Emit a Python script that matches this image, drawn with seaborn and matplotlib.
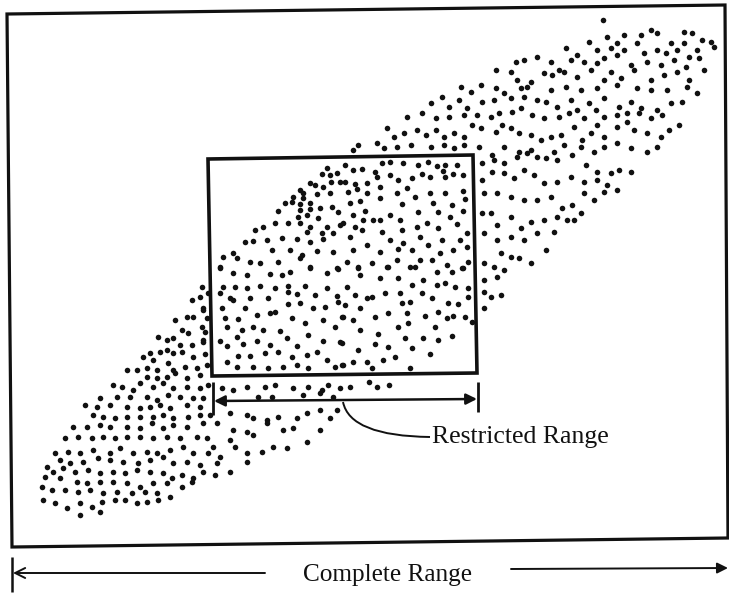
import matplotlib
matplotlib.use("Agg")
import matplotlib.pyplot as plt
from matplotlib.patches import Polygon, FancyArrowPatch
from matplotlib.path import Path
from matplotlib.patches import PathPatch
import pandas as pd
import seaborn as sns

# Scatter cloud, in drawing units (x to the right, y downward)
upper_cloud = [
    (603, 20), (624, 35), (651, 30), (657, 33), (641, 35), (684, 32), (692, 33), (711, 42), (702, 40),
    (607, 37), (617, 43), (637, 43), (589, 42), (671, 43), (684, 43), (697, 50), (714, 47),
    (566, 48), (577, 55), (597, 50), (611, 48), (624, 50), (644, 53), (657, 50), (666, 53), (677, 50),
    (689, 57), (699, 58), (537, 57), (524, 60), (516, 62), (551, 62), (559, 70), (571, 60), (584, 62),
    (597, 63), (604, 58), (617, 55), (631, 65), (647, 62), (661, 65), (674, 60), (686, 67), (704, 70),
    (496, 70), (511, 72), (517, 80), (531, 82), (544, 73), (552, 75), (564, 72), (577, 77), (591, 70),
    (604, 80), (611, 72), (621, 78), (634, 70), (651, 80), (664, 75), (677, 72), (689, 80),
    (461, 87), (471, 92), (481, 85), (496, 88), (504, 93), (521, 88), (527, 87), (551, 90), (566, 87),
    (581, 90), (597, 88), (617, 85), (637, 88), (651, 90), (667, 90), (687, 87), (697, 93),
    (442, 97), (431, 103), (449, 107), (459, 100), (467, 108), (482, 102), (494, 100), (511, 98),
    (524, 97), (537, 100), (546, 102), (557, 107), (571, 100), (577, 110), (589, 103), (604, 98),
    (619, 107), (631, 102), (641, 108), (657, 110), (671, 103), (682, 102),
    (407, 117), (422, 113), (436, 118), (449, 117), (464, 115), (477, 115), (491, 117), (499, 113),
    (512, 112), (521, 108), (532, 115), (544, 118), (559, 117), (569, 113), (584, 118), (596, 110),
    (604, 117), (617, 115), (627, 113), (639, 113), (651, 118), (662, 115), (679, 125),
    (387, 128), (394, 137), (404, 133), (417, 130), (426, 135), (436, 130), (444, 137), (454, 133),
    (464, 137), (472, 125), (481, 128), (496, 132), (502, 125), (511, 128), (519, 133), (531, 135),
    (541, 140), (551, 137), (561, 135), (574, 127), (582, 140), (591, 133), (597, 125), (604, 137),
    (617, 127), (627, 122), (634, 130), (647, 133), (661, 137), (669, 130),
    (377, 143), (384, 148), (397, 147), (411, 145), (431, 147), (444, 145), (454, 148), (464, 145),
    (479, 147), (492, 155), (504, 147), (519, 152), (531, 150), (537, 157), (554, 152), (564, 145),
    (572, 155), (581, 147), (594, 152), (604, 147), (617, 143), (631, 148), (647, 152), (657, 147),
    (353, 150), (358, 145),
    (482, 163), (494, 160), (504, 163), (517, 157), (527, 153), (546, 158), (557, 160), (586, 165),
    (597, 172), (611, 173), (619, 170), (631, 172), (482, 180), (492, 172), (504, 173), (514, 178),
    (524, 170), (534, 175), (544, 183), (557, 182), (571, 177), (584, 182), (597, 180), (607, 185),
    (617, 190), (484, 193), (497, 193), (511, 197), (524, 200), (537, 200), (551, 197), (562, 208),
    (572, 205), (584, 193), (594, 200), (604, 192), (482, 213), (491, 213), (497, 225), (511, 217),
    (521, 228), (531, 222), (544, 220), (557, 217), (567, 220), (574, 220), (581, 213),
    (484, 233), (497, 240), (511, 237), (524, 240), (537, 233), (546, 250), (554, 232),
    (501, 253), (511, 257), (519, 258), (531, 263), (484, 263), (494, 267), (504, 270),
    (484, 280), (497, 277), (484, 292), (491, 297), (501, 295), (484, 308),
]

window_cloud = [
    (327, 168), (322, 174), (330, 175), (337, 173), (310, 183), (315, 185), (323, 187), (331, 182),
    (340, 182), (300, 190), (303, 193), (317, 194), (330, 193), (293, 197), (303, 198),
    (285, 203), (292, 202), (300, 204), (310, 203), (278, 211), (300, 210), (310, 209), (320, 208),
    (332, 207), (338, 212), (298, 217), (307, 215), (318, 218), (275, 223), (288, 223), (300, 223),
    (310, 227), (327, 227), (340, 225), (263, 227), (255, 230), (307, 232), (322, 233), (333, 233),
    (267, 240), (282, 238), (297, 239), (310, 242), (323, 239), (245, 242), (253, 241), (272, 250),
    (290, 250), (302, 255), (317, 251), (333, 252), (233, 253), (223, 257), (237, 258), (250, 262),
    (260, 263), (278, 262), (300, 258), (220, 267), (310, 267), (337, 268),
    (345, 165), (353, 170), (362, 169), (375, 172), (382, 163), (390, 162), (403, 163), (418, 165),
    (428, 162), (437, 166), (445, 165), (457, 165), (443, 171), (345, 182), (355, 184), (367, 183),
    (377, 177), (390, 175), (398, 180), (412, 178), (422, 174), (430, 177), (445, 177), (453, 174),
    (463, 175), (348, 192), (357, 189), (367, 193), (380, 187), (397, 193), (407, 188), (430, 193),
    (445, 193), (463, 191), (350, 203), (360, 201), (380, 198), (402, 204), (415, 197), (433, 203),
    (452, 205), (465, 199), (353, 215), (365, 211), (373, 220), (390, 215), (400, 220), (418, 212),
    (438, 212), (450, 217), (463, 211), (343, 223), (355, 227), (363, 220), (380, 220), (402, 230),
    (417, 227), (427, 223), (438, 228), (457, 224), (467, 233), (350, 237), (362, 230), (382, 232),
    (390, 240), (403, 243), (420, 237), (442, 240), (460, 240), (353, 250), (367, 245), (380, 252),
    (398, 249), (412, 250), (428, 245), (440, 253), (453, 250), (467, 247), (347, 262), (358, 267),
    (372, 263), (387, 267), (397, 260), (410, 267), (420, 260), (432, 260), (447, 265), (462, 268),
    (468, 262),
    (220, 268), (233, 273), (247, 275), (270, 274), (282, 275), (290, 272), (310, 268), (327, 273),
    (338, 269), (223, 287), (235, 287), (247, 288), (260, 286), (275, 288), (288, 286), (288, 292),
    (297, 294), (305, 286), (315, 295), (327, 288), (337, 296), (220, 293), (230, 298), (233, 300),
    (250, 298), (268, 298), (288, 304), (300, 303), (313, 308), (325, 307), (338, 302), (222, 308),
    (225, 318), (238, 319), (245, 308), (257, 315), (270, 313), (275, 312), (292, 318), (305, 323),
    (323, 320), (335, 327), (342, 317), (227, 327), (242, 330), (253, 327), (263, 330), (280, 331),
    (287, 338), (308, 335), (323, 341), (340, 342), (237, 337), (220, 341), (227, 346), (243, 344),
    (257, 341), (270, 345), (297, 346), (317, 352), (238, 356), (250, 356), (265, 353), (278, 352),
    (292, 357), (307, 355), (227, 362), (237, 367), (253, 367), (268, 368), (283, 367), (297, 365),
    (308, 368), (327, 360), (335, 367), (342, 365),
    (358, 268), (388, 267), (415, 267), (437, 272), (452, 272), (463, 268), (360, 275), (380, 278),
    (398, 278), (412, 285), (423, 280), (437, 285), (445, 283), (455, 287), (468, 288), (347, 287),
    (355, 295), (367, 298), (372, 297), (385, 293), (400, 293), (410, 302), (422, 293), (432, 298),
    (448, 303), (458, 304), (468, 297), (345, 305), (360, 308), (375, 317), (388, 313), (402, 303),
    (407, 313), (425, 316), (438, 312), (447, 318), (453, 316), (465, 317), (343, 317), (353, 320),
    (398, 327), (408, 323), (435, 327), (472, 322), (360, 330), (378, 334), (405, 338), (423, 338),
    (438, 340), (452, 336), (342, 343), (358, 350), (375, 344), (388, 347), (412, 348), (430, 354),
    (343, 365), (353, 362), (367, 362), (383, 360), (395, 357), (410, 368), (372, 368),
]

lower_cloud = [
    (200, 297), (192, 300), (208, 293), (202, 287), (203, 308), (207, 318), (205, 332), (203, 342),
    (205, 354), (207, 365), (187, 317), (193, 317), (203, 310), (175, 320), (182, 330), (188, 333),
    (202, 327), (167, 340), (173, 338), (158, 337), (180, 345), (192, 345), (203, 340), (150, 353),
    (160, 352), (167, 350), (173, 353), (182, 352), (193, 357), (143, 357), (153, 360), (168, 363),
    (127, 370), (137, 370), (147, 368), (157, 370), (173, 370), (185, 367), (197, 368),
    (147, 377), (157, 378), (167, 377), (175, 373), (187, 378), (200, 375), (113, 385), (122, 387),
    (133, 390), (140, 383), (153, 387), (163, 383), (173, 388), (187, 387), (200, 388), (208, 385),
    (100, 398), (117, 397), (130, 397), (147, 397), (157, 400), (168, 395), (180, 397), (193, 398),
    (203, 398), (85, 405), (97, 407), (110, 405), (127, 407), (140, 408), (150, 407), (160, 405),
    (170, 408), (187, 405), (200, 407), (93, 415), (103, 417), (115, 418), (127, 417), (140, 417),
    (153, 417), (163, 415), (173, 418), (188, 417), (200, 415), (210, 415),
    (73, 427), (87, 427), (100, 425), (110, 427), (127, 427), (140, 428), (152, 423), (163, 428),
    (173, 425), (187, 427), (203, 423), (217, 423), (65, 438), (78, 437), (92, 438), (103, 437),
    (115, 438), (127, 437), (140, 437), (153, 438), (167, 437), (180, 438), (197, 437), (207, 438),
    (55, 453), (68, 452), (80, 453), (93, 450), (110, 453), (120, 448), (133, 453), (147, 452),
    (157, 453), (170, 450), (183, 447), (193, 453), (208, 453), (220, 457), (60, 460), (70, 463),
    (83, 462), (98, 458), (110, 460), (123, 462), (138, 463), (150, 460), (163, 457), (173, 463),
    (187, 462), (200, 465), (47, 467), (53, 472), (63, 468), (75, 472), (88, 470), (100, 473),
    (113, 472), (125, 473), (137, 470), (150, 472), (163, 473), (172, 478), (182, 475), (193, 478),
    (203, 472), (215, 475), (230, 472), (45, 477), (60, 478), (77, 482), (87, 483), (100, 482),
    (113, 482), (127, 483), (140, 487), (153, 483), (167, 483), (182, 487), (192, 482),
    (42, 487), (52, 490), (65, 490), (78, 492), (90, 490), (103, 493), (117, 492), (132, 493),
    (145, 492), (157, 493), (170, 497), (43, 500), (55, 503), (67, 508), (80, 503), (92, 507),
    (102, 502), (115, 500), (125, 500), (137, 503), (147, 502), (158, 500), (80, 515), (100, 512),
    (222, 388), (233, 390), (247, 387), (265, 387), (275, 385), (293, 388), (308, 387), (322, 390),
    (328, 385), (340, 388), (350, 387), (258, 397), (272, 397), (303, 395), (320, 393), (333, 397),
    (369, 382), (377, 387), (389, 385), (230, 413), (247, 415), (253, 418), (267, 420), (278, 417),
    (297, 418), (307, 413), (320, 410), (330, 418), (337, 410), (233, 430), (247, 432), (253, 435),
    (267, 423), (283, 430), (293, 428), (307, 442), (320, 430), (230, 440), (235, 447), (247, 453),
    (262, 452), (273, 447), (287, 448), (213, 447), (217, 463), (247, 462),
]

# Boxes and range markers
outer_frame = [(7, 14), (725, 5), (728, 538), (12, 547)]
inner_window = [(208, 159), (473, 155), (477, 373), (212, 376)]
restricted_ends = (213, 478)
complete_ends = (12, 728)

ink = "#111111"
sns.set_theme(style="white")
plt.rcParams["font.family"] = ["Liberation Serif", "DejaVu Serif"]

frames = {"upper": upper_cloud, "window": window_cloud, "lower": lower_cloud}
df = pd.concat(
    [pd.DataFrame(v, columns=["x", "y"]).assign(part=k) for k, v in frames.items()],
    ignore_index=True,
)

fig = plt.figure(figsize=(7.29, 5.93), dpi=100)
fig.patch.set_facecolor("white")
ax = fig.add_axes([0, 0, 1, 1])
ax.set_xlim(0, 729)
ax.set_ylim(593, 0)
ax.axis("off")

sns.scatterplot(data=df, x="x", y="y", color=ink, s=16, linewidth=0,
                legend=False, ax=ax, zorder=2)

ax.add_patch(Polygon(outer_frame, closed=True, fill=False, edgecolor=ink,
                     linewidth=2.3, joinstyle="miter", zorder=3))
ax.add_patch(Polygon(inner_window, closed=True, fill=False, edgecolor=ink,
                     linewidth=2.6, joinstyle="miter", zorder=3))

# Restricted range marker
rl, rr = restricted_ends
ax.plot([rl, rl], [382, 415], color=ink, lw=2.0, solid_capstyle="butt")
ax.plot([rr, rr], [382, 412], color=ink, lw=2.0, solid_capstyle="butt")
ax.add_patch(FancyArrowPatch((rl + 1, 401), (rr - 1, 399), arrowstyle="<|-|>",
                             mutation_scale=16, color=ink, lw=1.8,
                             shrinkA=0, shrinkB=0, zorder=3))
leader = Path([(343, 402), (350, 436), (430, 437)], [Path.MOVETO, Path.CURVE3, Path.CURVE3])
ax.add_patch(PathPatch(leader, fill=False, edgecolor=ink, lw=1.4))
ax.text(432, 437, "Restricted Range", fontsize=18.5, color=ink,
        ha="left", va="center")

# Complete range marker
cl, cr = complete_ends
ax.plot([cl, cl], [557, 592], color=ink, lw=1.8, solid_capstyle="butt")
ax.add_patch(FancyArrowPatch((265, 573), (cl + 1, 573), arrowstyle="->",
                             mutation_scale=18, color=ink, lw=1.4,
                             shrinkA=0, shrinkB=0))
ax.add_patch(FancyArrowPatch((511, 569), (cr, 568), arrowstyle="-|>",
                             mutation_scale=16, color=ink, lw=1.4,
                             shrinkA=0, shrinkB=0))
ax.text(388, 575, "Complete Range", fontsize=18.2, color=ink,
        ha="center", va="center")

fig.savefig("out.png", dpi=100, facecolor="white")
